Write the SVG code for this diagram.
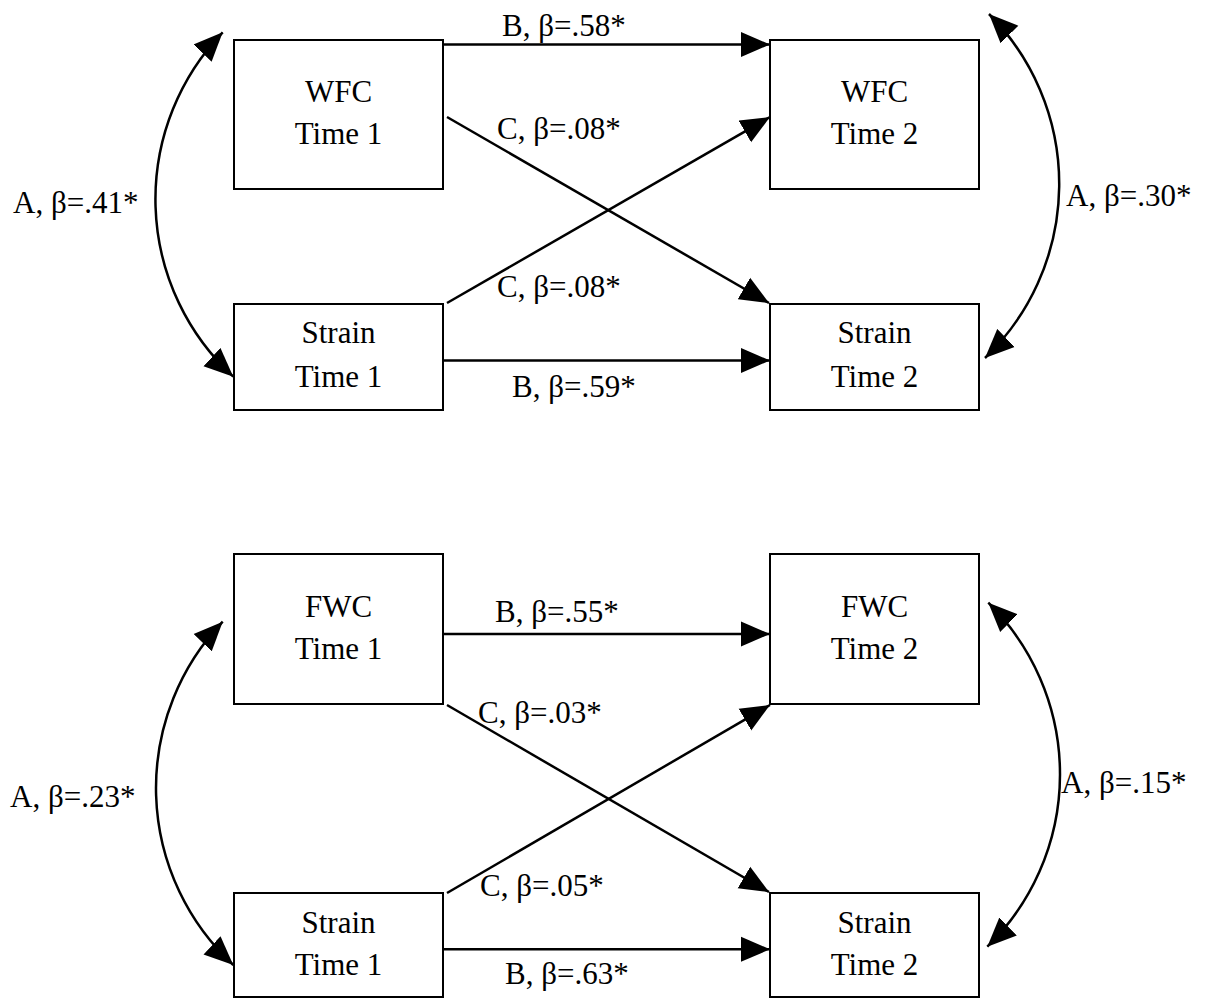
<svg xmlns="http://www.w3.org/2000/svg" width="1205" height="999" viewBox="0 0 1205 999" font-family="Liberation Serif, DejaVu Serif, serif">
<style>
.box{fill:#fff;stroke:#000;stroke-width:2}
.t{font-family:'Liberation Serif','DejaVu Serif',serif;font-size:31px;fill:#000}
.m{text-anchor:middle}
.c{fill:none;stroke:#000;stroke-width:2.5}
</style>
<defs>
<marker id="ah" markerUnits="userSpaceOnUse" markerWidth="30" markerHeight="26" refX="29" refY="12.5" orient="auto-start-reverse" viewBox="0 0 30 25">
<path d="M0,0 L29,12.5 L0,25 z" fill="#000"/>
</marker>
</defs>
<rect width="1205" height="999" fill="#fff"/>
<g id="connectors">
<line class="c" x1="443" y1="44.5" x2="770" y2="44.5" marker-end="url(#ah)"/>
<line class="c" x1="447" y1="117" x2="769" y2="303" marker-end="url(#ah)"/>
<line class="c" x1="447" y1="303" x2="770" y2="117" marker-end="url(#ah)"/>
<line class="c" x1="443" y1="360.5" x2="770" y2="360.5" marker-end="url(#ah)"/>
<path class="c" d="M222.7,32.3 A241,241 0 0 0 233.3,376.7" marker-start="url(#ah)" marker-end="url(#ah)"/>
<path class="c" d="M989,14 A241,241 0 0 1 985,358" marker-start="url(#ah)" marker-end="url(#ah)"/>
<line class="c" x1="443" y1="634" x2="770" y2="634" marker-end="url(#ah)"/>
<line class="c" x1="447" y1="705" x2="769" y2="892" marker-end="url(#ah)"/>
<line class="c" x1="447" y1="893" x2="770" y2="705" marker-end="url(#ah)"/>
<line class="c" x1="443" y1="949.3" x2="770" y2="949.3" marker-end="url(#ah)"/>
<path class="c" d="M222.7,621.7 A241,241 0 0 0 233.3,965" marker-start="url(#ah)" marker-end="url(#ah)"/>
<path class="c" d="M988.3,602.7 A241,241 0 0 1 987.3,946.7" marker-start="url(#ah)" marker-end="url(#ah)"/>
</g>
<g id="labels">
<text class="t" x="502" y="36">B, β=.58*</text>
<text class="t" x="497" y="139">C, β=.08*</text>
<text class="t" x="497" y="297">C, β=.08*</text>
<text class="t" x="512" y="397">B, β=.59*</text>
<text class="t" x="13" y="213">A, β=.41*</text>
<text class="t" x="1066" y="206">A, β=.30*</text>
<text class="t" x="495" y="622">B, β=.55*</text>
<text class="t" x="478" y="723">C, β=.03*</text>
<text class="t" x="480" y="896">C, β=.05*</text>
<text class="t" x="505" y="984">B, β=.63*</text>
<text class="t" x="10" y="807">A, β=.23*</text>
<text class="t" x="1061" y="793">A, β=.15*</text>
</g>
<g id="wfc1"><rect class="box" x="234" y="40" width="209" height="149"/><text class="t m" x="338.5" y="102">WFC</text><text class="t m" x="338.5" y="144">Time 1</text></g>
<g id="wfc2"><rect class="box" x="770" y="40" width="209" height="149"/><text class="t m" x="874.5" y="102">WFC</text><text class="t m" x="874.5" y="144">Time 2</text></g>
<g id="strain1a"><rect class="box" x="234" y="304" width="209" height="106"/><text class="t m" x="338.5" y="343">Strain</text><text class="t m" x="338.5" y="387">Time 1</text></g>
<g id="strain2a"><rect class="box" x="770" y="304" width="209" height="106"/><text class="t m" x="874.5" y="343">Strain</text><text class="t m" x="874.5" y="387">Time 2</text></g>
<g id="fwc1"><rect class="box" x="234" y="554" width="209" height="150"/><text class="t m" x="338.5" y="617">FWC</text><text class="t m" x="338.5" y="659">Time 1</text></g>
<g id="fwc2"><rect class="box" x="770" y="554" width="209" height="150"/><text class="t m" x="874.5" y="617">FWC</text><text class="t m" x="874.5" y="659">Time 2</text></g>
<g id="strain1b"><rect class="box" x="234" y="893" width="209" height="104"/><text class="t m" x="338.5" y="933">Strain</text><text class="t m" x="338.5" y="975">Time 1</text></g>
<g id="strain2b"><rect class="box" x="770" y="893" width="209" height="104"/><text class="t m" x="874.5" y="933">Strain</text><text class="t m" x="874.5" y="975">Time 2</text></g>
</svg>
